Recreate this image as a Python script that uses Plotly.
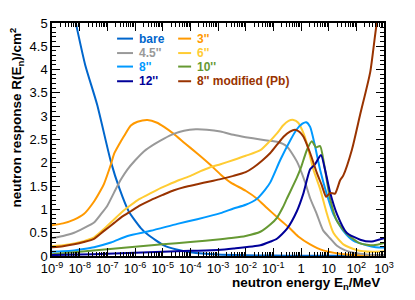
import numpy as np
import plotly.graph_objects as go

# ---------------- data (log10 of neutron energy in MeV, response in cm^2) ----------------
bare_logE = [-9, -8.14, -7.8, -7.37, -6.87, -6.57, -6.23, -5.79, -5.54, -4.96, -4.5, -3.99, -3.02, -2, -1, 0, 1, 2, 3]
bare_R = [7.4, 5.0, 4.1, 3.25, 2.02, 1.46, 0.96, 0.6, 0.46, 0.23, 0.14, 0.08, 0.03, 0.015, 0.01, 0.005, 0.005, 0.005, 0.005]

in3_logE = [-9, -8.6, -8.2, -7.85, -7.48, -7.23, -7.12, -6.87, -6.75, -6.55, -6.39, -6.15, -5.91, -5.55, -5.2, -4.95,
            -4.6, -4.2, -3.75, -3.3, -2.91, -2.55, -2.0, -1.59, -1.23, -0.8, -0.45, -0.1, 0.33, 0.8, 1.4, 2, 3]
in3_R = [0.66, 0.7, 0.78, 0.9, 1.17, 1.42, 1.55, 1.97, 2.2, 2.42, 2.58, 2.8, 2.88, 2.92, 2.86, 2.77,
         2.62, 2.42, 2.2, 1.97, 1.75, 1.58, 1.4, 1.23, 1.03, 0.8, 0.62, 0.42, 0.25, 0.12, 0.05, 0.02, 0.01]

in45_logE = [-9, -8.6, -8.2, -7.85, -7.48, -7.23, -7.0, -6.75, -6.5, -6.27, -6.0, -5.67, -5.3, -4.95, -4.6, -4.23,
             -3.8, -3.4, -2.91, -2.44, -2.0, -1.47, -1.1, -0.87, -0.51, -0.15, 0.15, 0.33, 0.57, 0.8, 1.05, 1.3,
             1.6, 1.9, 2.3, 3]
in45_R = [0.38, 0.43, 0.5, 0.6, 0.72, 0.9, 1.08, 1.37, 1.65, 1.86, 2.05, 2.25, 2.4, 2.52, 2.62, 2.69,
          2.72, 2.71, 2.67, 2.6, 2.55, 2.5, 2.47, 2.45, 2.35, 2.03, 1.58, 1.24, 0.9, 0.55, 0.38, 0.22,
          0.12, 0.07, 0.04, 0.02]

in6_logE = [-9, -8.6, -8.2, -7.85, -7.48, -7.12, -6.75, -6.5, -6.27, -5.9, -5.55, -5.2, -4.83, -4.4, -3.99, -3.63,
            -3.3, -2.91, -2.44, -2.0, -1.47, -1.15, -0.87, -0.65, -0.45, -0.27, -0.1, 0.1, 0.21, 0.45, 0.69, 0.94,
            1.17, 1.53, 2.0, 2.6, 3.0]
in6_R = [0.21, 0.23, 0.27, 0.32, 0.4, 0.58, 0.79, 0.93, 1.04, 1.2, 1.31, 1.42, 1.52, 1.63, 1.72, 1.82,
         1.9, 1.97, 2.06, 2.15, 2.27, 2.45, 2.63, 2.8, 2.9, 2.92, 2.86, 2.62, 2.42, 1.85, 1.44, 0.9,
         0.5, 0.25, 0.13, 0.09, 0.1]

in8_logE = [-9, -8.6, -8.2, -7.85, -7.48, -6.87, -6.27, -5.43, -4.47, -3.75, -2.91, -2.44, -2.0, -1.59, -1.3, -1.11,
            -0.75, -0.39, -0.15, 0.05, 0.19, 0.33, 0.51, 0.69, 0.94, 1.17, 1.53, 1.89, 2.38, 2.7, 3.0]
in8_R = [0.09, 0.1, 0.12, 0.15, 0.19, 0.29, 0.43, 0.54, 0.69, 0.79, 0.92, 1.02, 1.1, 1.23, 1.42, 1.58,
         2.06, 2.48, 2.72, 2.84, 2.87, 2.77, 2.35, 1.85, 1.31, 0.9, 0.54, 0.33, 0.23, 0.19, 0.18]

in10_logE = [-9, -8, -7, -6, -5, -4, -2.91, -2.44, -2.0, -1.47, -1.1, -0.87, -0.65,
             -0.51, -0.15, 0.0, 0.21, 0.39, 0.55, 0.69, 0.87, 1.05, 1.3, 1.65, 2.14, 2.62, 3.0]
in10_R = [0.04, 0.09, 0.145, 0.2, 0.25, 0.3, 0.36, 0.39, 0.43, 0.52, 0.68, 0.82, 1.05,
          1.23, 1.68, 1.9, 2.27, 2.46, 2.33, 2.36, 1.85, 1.23, 0.75, 0.48, 0.27, 0.23, 0.28]

in12_logE = [-9, -8, -7, -6, -5, -4, -3, -2.44, -1.47, -1.1, -0.87, -0.51, -0.15, 0.09, 0.33, 0.51, 0.72, 0.87,
             1.05, 1.3, 1.65, 2.14, 2.56, 3.0]
in12_R = [0.02, 0.03, 0.05, 0.07, 0.09, 0.11, 0.13, 0.16, 0.23, 0.31, 0.37, 0.58, 0.96, 1.35, 1.86, 1.97, 2.17, 1.85,
          1.37, 0.9, 0.5, 0.35, 0.31, 0.38]

pb_logE = [-9, -8.6, -8.2, -7.85, -7.48, -7.12, -6.75, -6.5, -6.15, -5.8, -5.43, -5.0, -4.59, -4.2, -3.75, -3.3,
           -2.91, -2.44, -2.0, -1.72, -1.4, -1.11, -0.85, -0.63, -0.4, -0.21, -0.05, 0.09, 0.33, 0.57, 0.75, 0.91,
           1.05, 1.23, 1.41, 1.53, 1.84, 2.14, 2.5, 2.74, 3.0]
pb_R = [0.19, 0.21, 0.25, 0.3, 0.37, 0.54, 0.71, 0.83, 0.96, 1.09, 1.2, 1.31, 1.41, 1.48, 1.54, 1.6,
        1.65, 1.72, 1.8, 1.9, 2.05, 2.21, 2.4, 2.56, 2.67, 2.71, 2.66, 2.56, 2.21, 1.79, 1.52, 1.27,
        1.35, 1.34, 1.62, 1.73, 2.28, 3.04, 3.94, 5.0, 5.7]

series_names = ["bare", "3''", "4.5''", "6''", "8''", "10''", "12''", "8'' modified (Pb)"]
series_colors = ["#0066cc", "#ff9900", "#999999", "#ffcc33", "#0099ff", "#669933", "#000099", "#993300"]
series_data = [(bare_logE, bare_R), (in3_logE, in3_R), (in45_logE, in45_R), (in6_logE, in6_R),
               (in8_logE, in8_R), (in10_logE, in10_R), (in12_logE, in12_R), (pb_logE, pb_R)]

x_tick_exponents = list(range(-9, 4))
x_tick_labels = ["10<sup>-9</sup>", "10<sup>-8</sup>", "10<sup>-7</sup>", "10<sup>-6</sup>", "10<sup>-5</sup>",
                 "10<sup>-4</sup>", "10<sup>-3</sup>", "10<sup>-2</sup>", "10<sup>-1</sup>", "1", "10",
                 "10<sup>2</sup>", "10<sup>3</sup>"]

# legend layout: (column, row) for each series
legend_slots = [(0, 0), (1, 0), (0, 1), (1, 1), (0, 2), (1, 2), (0, 3), (1, 3)]

FONT = "Liberation Sans, Arial, sans-serif"

fig = go.Figure()
for (lx, ry), name, col in zip(series_data, series_names, series_colors):
    fig.add_trace(go.Scatter(x=10 ** np.array(lx, dtype=float), y=ry, mode="lines", name=name,
                             line=dict(color=col, width=2, shape="spline", smoothing=0.6),
                             showlegend=False, hoverinfo="skip"))

# custom two-column legend
col_line_x = [(0.196, 0.244), (0.380, 0.419)]
col_text_x = [0.256, 0.431]
row_y = [0.933, 0.871, 0.813, 0.750]
for (c, r), name, col in zip(legend_slots, series_names, series_colors):
    x0, x1 = col_line_x[c]
    fig.add_shape(type="line", xref="paper", yref="paper", x0=x0, x1=x1, y0=row_y[r], y1=row_y[r],
                  line=dict(color=col, width=2))
    fig.add_annotation(xref="paper", yref="paper", x=col_text_x[c], y=row_y[r], text="<b>%s</b>" % name,
                       showarrow=False, xanchor="left", yanchor="middle",
                       font=dict(family=FONT, size=12, color=col))

minor_vals = [m * 10.0 ** d for d in range(-9, 3) for m in range(2, 10)]

fig.update_xaxes(type="log", range=[-9, 3], tickmode="array",
                 tickvals=[10.0 ** e for e in x_tick_exponents], ticktext=x_tick_labels,
                 ticks="inside", ticklen=8, tickwidth=1, tickcolor="black",
                 minor=dict(tickmode="array", tickvals=minor_vals, ticks="inside", ticklen=4,
                            tickwidth=1, tickcolor="black", showgrid=False),
                 showline=True, linecolor="black", linewidth=1.5, mirror="allticks",
                 showgrid=False, zeroline=False,
                 tickfont=dict(family=FONT, size=13, color="black"))
fig.update_yaxes(range=[0, 5], dtick=0.5, tick0=0, ticks="inside", ticklen=8, tickwidth=1, tickcolor="black",
                 minor=dict(dtick=0.1, ticks="inside", ticklen=4, tickwidth=1, tickcolor="black", showgrid=False),
                 showline=True, linecolor="black", linewidth=1.5, mirror="allticks",
                 showgrid=False, zeroline=False,
                 tickfont=dict(family=FONT, size=13, color="black"))

# axis titles (ROOT-style, aligned to axis ends)
fig.add_annotation(xref="paper", yref="paper", x=0.994, y=-0.12, xanchor="right", yanchor="middle",
                   text="<b>neutron energy E<sub>n</sub>/MeV</b>", showarrow=False,
                   font=dict(family=FONT, size=13.5, color="black"))
fig.add_annotation(xref="paper", yref="paper", x=-0.105, y=0.99, xanchor="center", yanchor="top",
                   text="<b>neutron response R(E<sub>n</sub>)/cm<sup>2</sup></b>", showarrow=False,
                   textangle=-90, font=dict(family=FONT, size=13.5, color="black"))

# the page body has an 8px default margin; size and margins compensate so the plot sits where it should
fig.update_layout(width=407, height=292, margin=dict(l=44, r=31, t=8, b=44),
                  paper_bgcolor="white", plot_bgcolor="white", showlegend=False,
                  font=dict(family=FONT, size=13, color="black"))

fig.write_html("out.html")
